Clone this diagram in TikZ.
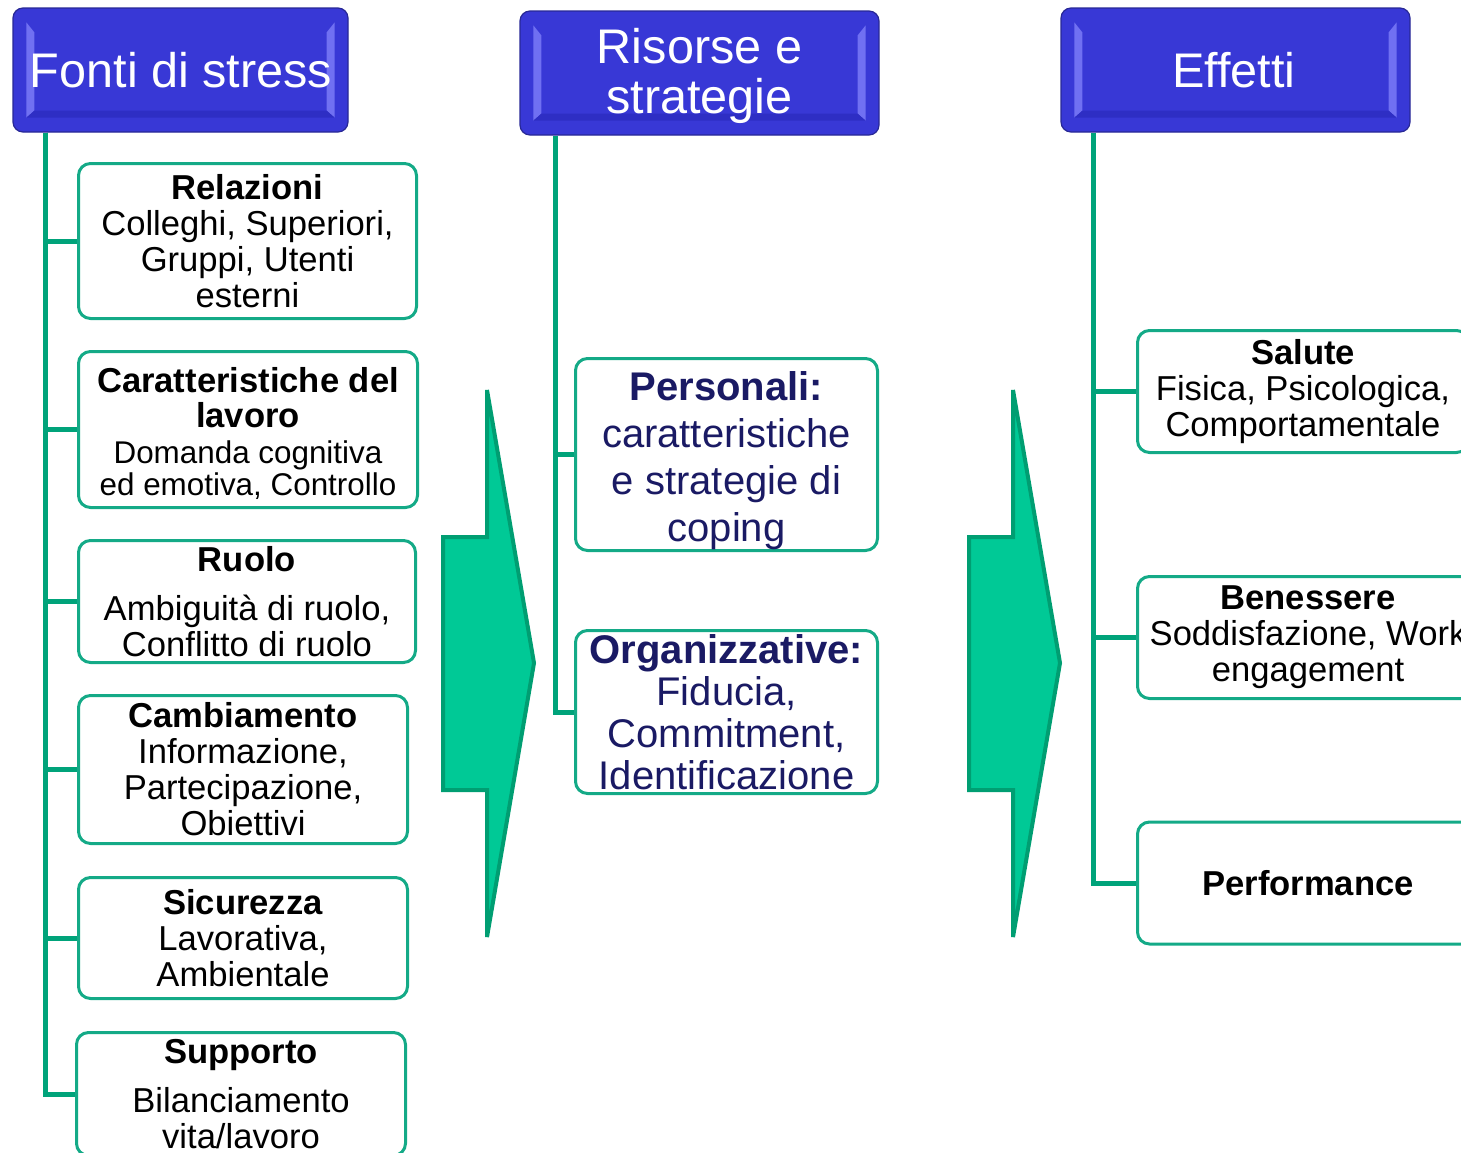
\documentclass[tikz,border=0pt]{standalone}
\usepackage{fontspec}
\setmainfont{Liberation Sans}
\definecolor{hblue}{RGB}{56,56,214}
\definecolor{hlight}{RGB}{112,112,242}
\definecolor{hband}{RGB}{46,46,196}
\definecolor{hedge}{RGB}{40,40,150}
\definecolor{lgreen}{RGB}{0,163,122}
\definecolor{bgreen}{RGB}{20,170,135}
\definecolor{afill}{RGB}{0,201,150}
\definecolor{aedge}{RGB}{0,158,114}
\definecolor{navy}{RGB}{26,26,100}
\newcommand\hdrbevel[1]{%
  \fill[hlight] ([shift={(14,15)}]#1.north west) -- ([shift={(22,25)}]#1.north west) -- ([shift={(22,-22)}]#1.south west) -- ([shift={(14,-15)}]#1.south west) -- cycle;
  \fill[hlight] ([shift={(-14,15)}]#1.north east) -- ([shift={(-22,25)}]#1.north east) -- ([shift={(-22,-22)}]#1.south east) -- ([shift={(-14,-15)}]#1.south east) -- cycle;
  \fill[hband] ([shift={(14,-15)}]#1.south west) -- ([shift={(22,-22)}]#1.south west) -- ([shift={(-22,-22)}]#1.south east) -- ([shift={(-14,-15)}]#1.south east) -- cycle;
}
\tikzset{
  hdr/.style={rectangle, rounded corners=5pt, fill=hblue, draw=hedge, line width=0.6pt,
    text=white, align=center, inner sep=0pt, font=\fontsize{24.3}{25}\selectfont},
  box/.style={rectangle, rounded corners=6pt, draw=bgreen, line width=1.5pt, fill=white,
    align=center, inner sep=0pt, font=\fontsize{17.3}{18}\selectfont},
  mbox/.style={box, text=navy},
  link/.style={draw=lgreen, line width=2.5pt},
  bigarrow/.style={fill=afill, draw=aedge, line width=2pt, line join=miter},
}
\begin{document}
\begin{tikzpicture}[x=0.5pt,y=-0.5pt]
\useasboundingbox (0,0) rectangle (1461,1152);
\clip (0,0) rectangle (1461,1152);

% big arrows
\draw[bigarrow] (443,537) -- (487,537) -- (487,390) -- (534,663) -- (487,937) -- (487,790) -- (443,790) -- cycle;
\draw[bigarrow] (969,537) -- (1013,537) -- (1013,390) -- (1060,663) -- (1013,937) -- (1013,790) -- (969,790) -- cycle;

% headers
\node[hdr, minimum width=167.5pt, minimum height=62pt] (fonti) at (180.5,70) {};
\hdrbevel{fonti}
\node[text=white, font=\fontsize{24.3}{25}\selectfont, inner sep=0pt] (fontit) at (181,70) {Fonti di stress};
\node[hdr, minimum width=179.5pt, minimum height=62pt] (risorse) at (699.5,73) {};
\hdrbevel{risorse}
\node[text=white, align=center, font=\fontsize{24.3}{25}\selectfont, inner sep=0pt] (risorset) at (699.5,76) {Risorse e\\strategie};
\node[hdr, minimum width=174.5pt, minimum height=62pt] (effetti) at (1235.5,70) {};
\hdrbevel{effetti}
\node[text=white, font=\fontsize{24.3}{25}\selectfont, inner sep=0pt] (effettit) at (1234,70) {Effetti};

% left boxes
\node[box, minimum width=169pt, minimum height=77.5pt] (L1) at (247.5,241) {\textbf{Relazioni}\\Colleghi, Superiori,\\Gruppi, Utenti\\esterni};
\node[box, minimum width=169.5pt, minimum height=78pt, font=\fontsize{17.3}{16}\selectfont] (L2) at (248,429.5) {\rule{0pt}{16.6pt}\textbf{Caratteristiche del}\\[1.5pt]\textbf{lavoro}\\[2pt]{\fontsize{15.7}{16}\selectfont Domanda cognitiva}\\{\fontsize{15.7}{16}\selectfont ed emotiva, Controllo}};
\node[box, minimum width=168.5pt, minimum height=61pt] (L3) at (247,601.5) {\textbf{Ruolo}\\[6.5pt]Ambiguità di ruolo,\\Conflitto di ruolo};
\node[box, minimum width=164.5pt, minimum height=74pt] (L4) at (243,769.5) {\textbf{Cambiamento}\\Informazione,\\Partecipazione,\\Obiettivi};
\node[box, minimum width=164.5pt, minimum height=60.5pt] (L5) at (243,938) {\textbf{Sicurezza}\\Lavorativa,\\Ambientale};
\node[box, minimum width=164.5pt, minimum height=61.5pt] (L6) at (241,1094) {\textbf{Supporto}\\[6.5pt]Bilanciamento\\vita/lavoro};

% middle boxes
\node[mbox, minimum width=151pt, minimum height=96pt, font=\fontsize{20}{23.5}\selectfont] (M1) at (726.5,454.5) {\rule{0pt}{20.6pt}\textbf{Personali:}\\caratteristiche\\e strategie di\\coping};
\node[mbox, minimum width=151pt, minimum height=81.5pt, font=\fontsize{20}{21}\selectfont] (M2) at (726.5,712) {\textbf{Organizzative:}\\Fiducia,\\Commitment,\\Identificazione};

% right boxes
\node[box, minimum width=165.5pt, minimum height=61pt] (R1) at (1303,391.5) {\textbf{Salute}\\Fisica, Psicologica,\\Comportamentale};
\node[box, minimum width=170.5pt, minimum height=61pt] (R2) at (1308,637.5) {\textbf{Benessere}\\Soddisfazione, Work\\engagement};
\node[box, minimum width=170.5pt, minimum height=61pt] (R3) at (1308,883) {\textbf{Performance}};

% connectors
\foreach \n in {L1,L2,L3,L4,L5,L6}
  \draw[link] ([xshift=16.5pt]fonti.south west) |- (\n.west);
\foreach \n in {M1,M2}
  \draw[link] ([xshift=18pt]risorse.south west) |- (\n.west);
\foreach \n in {R1,R2,R3}
  \draw[link] ([xshift=16.5pt]effetti.south west) |- (\n.west);
\end{tikzpicture}
\end{document}
